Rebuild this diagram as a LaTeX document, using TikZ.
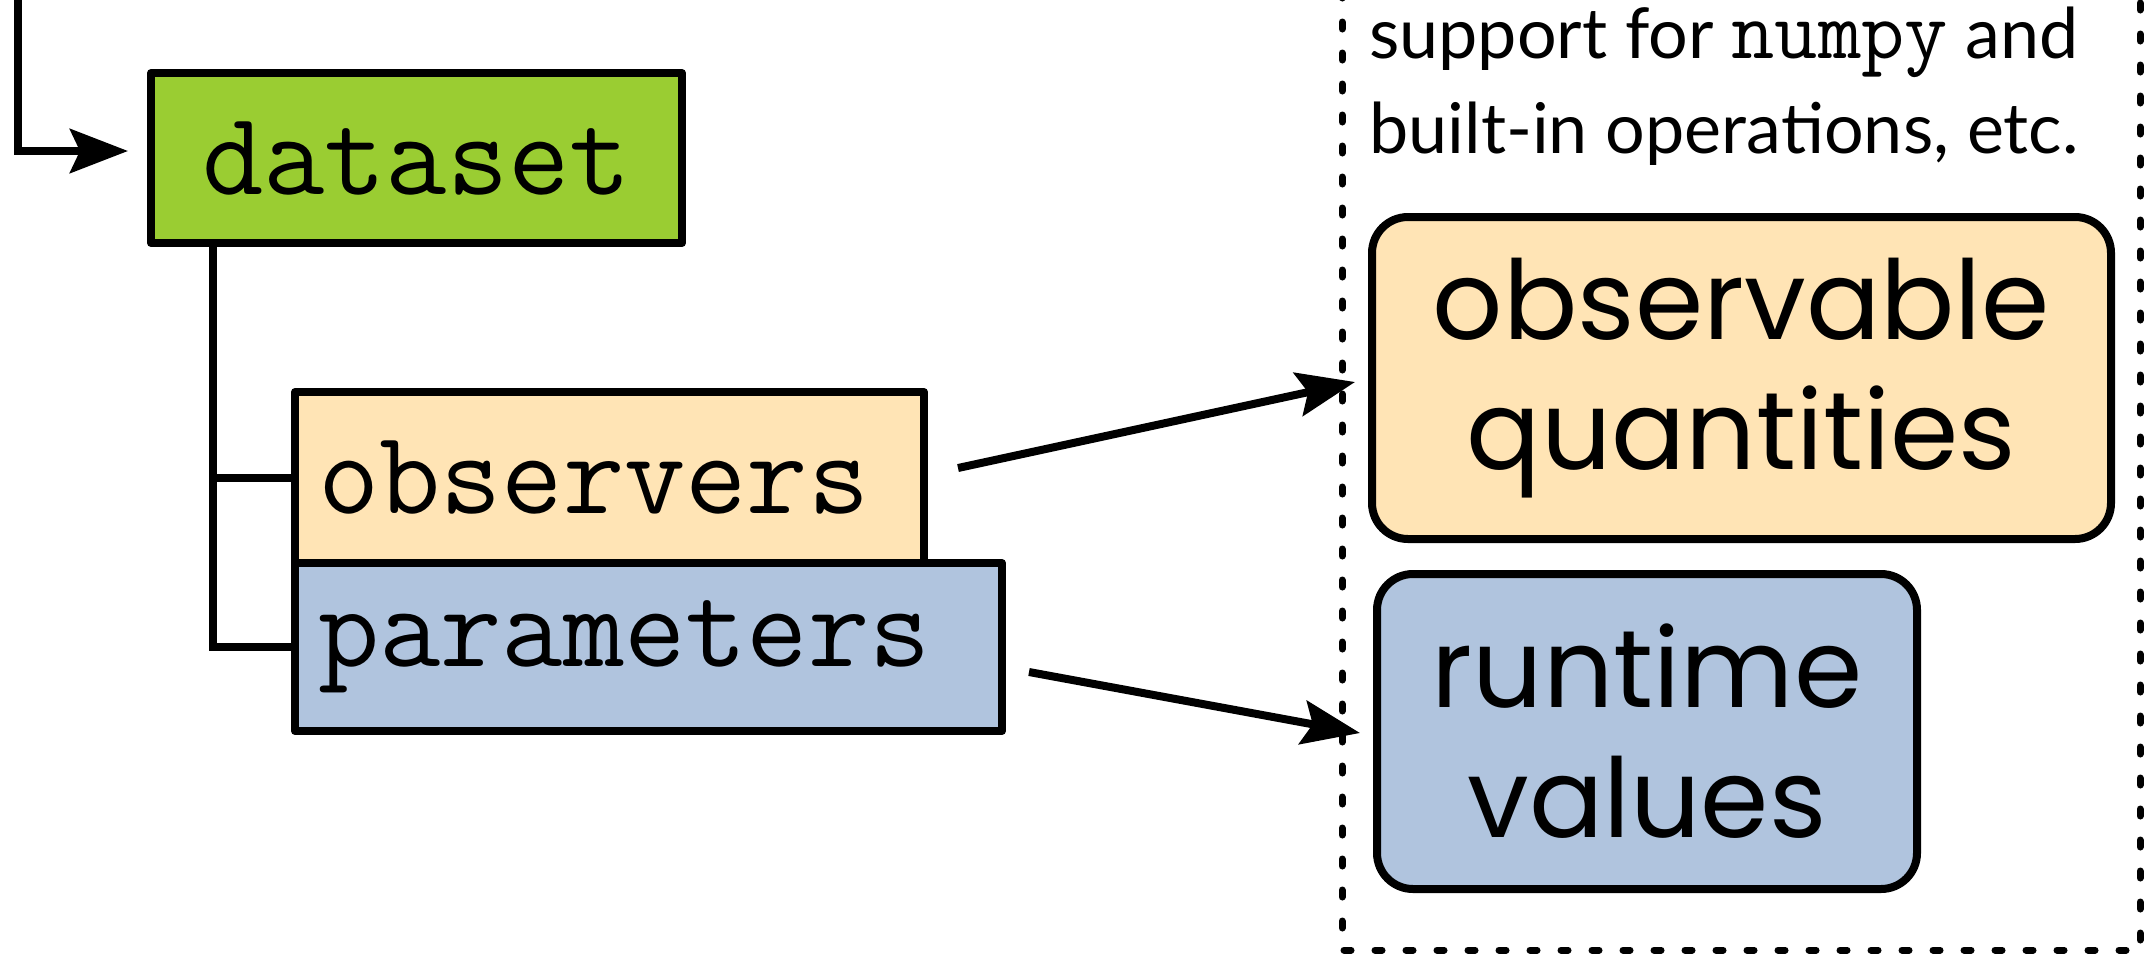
\documentclass[tikz,border=0pt]{standalone}
\usepackage{fontspec}
\setmainfont{Lato}
\newfontfamily\roundfont{Poppins}
\usetikzlibrary{arrows.meta}

\definecolor{dsgreen}{HTML}{9ACD32}
\definecolor{obsfill}{HTML}{FFE4B5}
\definecolor{parfill}{HTML}{B0C4DE}

\begin{document}
\begin{tikzpicture}[x=1pt, y=-1pt, line width=8pt,
  codebox/.style={draw, line join=round, inner ysep=0pt,
    font=\fontsize{119}{125}\selectfont\ttfamily},
  leftcode/.style={codebox, inner xsep=23pt, align=left},
  valbox/.style={draw, rounded corners=36pt, align=center, inner sep=0pt,
    font=\fontsize{110}{130}\selectfont\roundfont},
  arr/.style={-{Stealth[length=58pt, width=44pt, inset=10pt]}},
  dotborder/.style={line cap=round, dash pattern=on 7pt off 24pt}]

  \useasboundingbox (0,0) rectangle (2152,954);

  % dashed frame around the value boxes (its top runs off the page)
  \draw[dotborder, line width=7pt] (1342,-40) -- (1342,950) -- (2140,950) -- (2140,-40);

  % caption inside the frame
  \node[align=center, inner sep=0pt, font=\fontsize{70}{95}\selectfont] (caption) at (1724,86)
    {support for {\fontsize{84}{95}\selectfont\ttfamily numpy} and\\built-in operations, etc.};

  % tree of containers
  \node[codebox, fill=dsgreen, minimum width=531pt, minimum height=170pt]
    (dataset) at (416.5,158) {dataset};
  \node[leftcode, fill=obsfill, text width=583pt, minimum height=171pt]
    (observers) at (609.5,477.5) {observers};
  \node[leftcode, fill=parfill, text width=661pt, minimum height=168pt]
    (parameters) at (648.5,647) {parameters};

  % value boxes
  \node[valbox, fill=obsfill, minimum width=739pt, minimum height=322pt]
    (quantities) at (1741.5,378) {observable\\quantities};
  \node[valbox, fill=parfill, minimum width=540pt, minimum height=315pt]
    (runtime) at (1647,731.5) {runtime\\values};

  % incoming connector into the dataset
  \coordinate (entry) at (18,-10);
  \coordinate (entrytip) at (128,151);
  \draw[arr, line join=miter] (entry) |- (entrytip);

  % tree branches
  \coordinate (trunk) at ([xshift=66pt]dataset.south west);
  \draw (trunk) |- (parameters.west);
  \draw (trunk |- observers.west) -- (observers.west);

  % links from containers to their values
  \coordinate (obsstart) at (958,468);
  \coordinate (obstip) at (1355,382);
  \coordinate (parstart) at (1029,672);
  \coordinate (partip) at (1360,733);
  \draw[arr] (obsstart) -- (obstip);
  \draw[arr] (parstart) -- (partip);
\end{tikzpicture}
\end{document}
